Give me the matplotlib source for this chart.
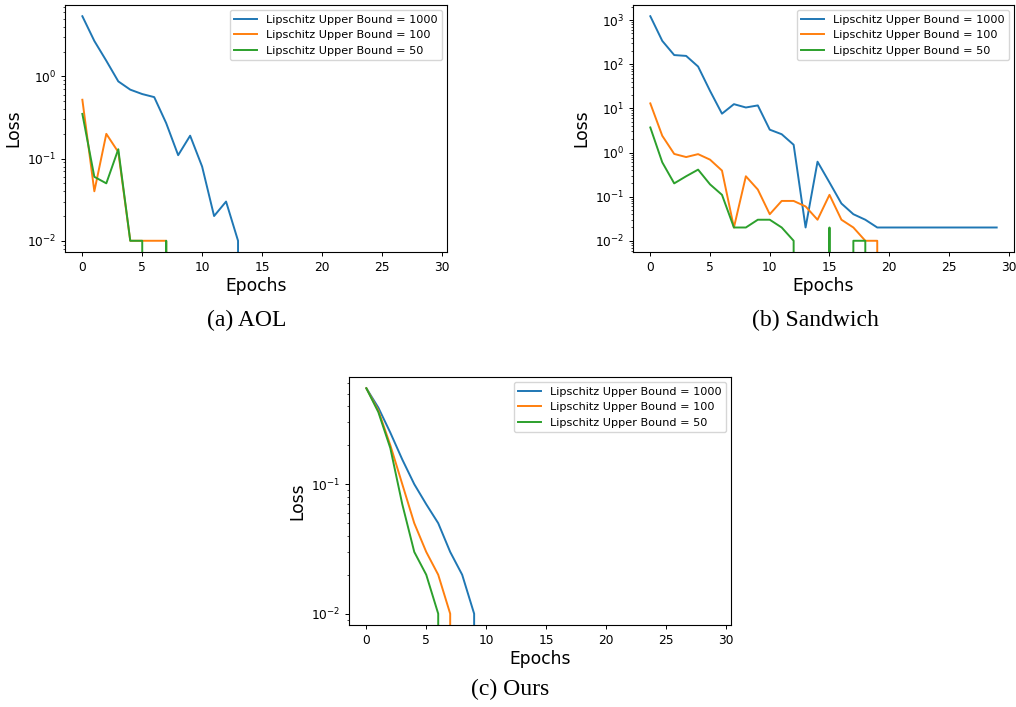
import matplotlib
matplotlib.use("Agg")
import matplotlib.pyplot as plt

# Training loss per epoch (0 = loss below the 0.01 logging resolution)
epochs = list(range(30))
labels = ["Lipschitz Upper Bound = 1000",
          "Lipschitz Upper Bound = 100",
          "Lipschitz Upper Bound = 50"]
colors = ["#1f77b4", "#ff7f0e", "#2ca02c"]

aol_1000 = [5.4, 2.7, 1.55, 0.87, 0.69, 0.61, 0.56, 0.27, 0.11, 0.19,
            0.08, 0.02, 0.03, 0.01] + [0.0] * 16
aol_100 = [0.52, 0.04, 0.2, 0.12, 0.01, 0.01, 0.01, 0.01] + [0.0] * 22
aol_50 = [0.35, 0.06, 0.05, 0.13, 0.01, 0.01, 0.0, 0.01] + [0.0] * 22

sandwich_1000 = [1230, 340, 162, 155, 89, 25, 7.6, 12.5, 10.5, 11.7,
                 3.3, 2.6, 1.5, 0.02, 0.62, 0.21, 0.07, 0.04, 0.03] + [0.02] * 11
sandwich_100 = [13, 2.4, 0.93, 0.79, 0.92, 0.69, 0.39, 0.02, 0.29, 0.145,
                0.04, 0.08, 0.08, 0.06, 0.03, 0.11, 0.03, 0.02, 0.01, 0.01] + [0.0] * 10
sandwich_50 = [3.7, 0.6, 0.2, 0.29, 0.41, 0.19, 0.11, 0.02, 0.02, 0.03,
               0.03, 0.02, 0.01, 0.0, 0.0, 0.02, 0.0, 0.01, 0.01] + [0.0] * 11

ours_1000 = [0.55, 0.39, 0.25, 0.155, 0.1, 0.07, 0.05, 0.03, 0.02, 0.01] + [0.0] * 20
ours_100 = [0.55, 0.37, 0.2, 0.1, 0.05, 0.03, 0.02, 0.01] + [0.0] * 22
ours_50 = [0.55, 0.36, 0.19, 0.07, 0.03, 0.02, 0.01] + [0.0] * 23

panels = [
    ("(a) AOL", [aol_1000, aol_100, aol_50]),
    ("(b) Sandwich", [sandwich_1000, sandwich_100, sandwich_50]),
    ("(c) Ours", [ours_1000, ours_100, ours_50]),
]

W, H = 1016, 707
fig = plt.figure(figsize=(W / 100, H / 100), dpi=100)

# axes boxes in pixels: left, top, right, bottom
boxes = [(65, 5, 447, 252), (633, 5, 1014, 252), (349, 377, 731, 625)]
captions_xy = [(247, 320), (815, 320), (510, 689)]

plt.rcParams["font.family"] = "DejaVu Sans"

for (title, series), box, cap in zip(panels, boxes, captions_xy):
    l, t, r, b = box
    ax = fig.add_axes([l / W, 1 - b / H, (r - l) / W, (b - t) / H])
    ax.set_yscale("log")
    for vals, lab, col in zip(series, labels, colors):
        ax.plot(epochs, vals, color=col, lw=1.4, label=lab)
    ax.set_xticks([0, 5, 10, 15, 20, 25, 30])
    ax.tick_params(axis="both", which="major", labelsize=8.8, length=2.8, width=0.7)
    ax.tick_params(axis="both", which="minor", length=1.6, width=0.5)
    for s in ax.spines.values():
        s.set_linewidth(0.8)
    ax.set_xlabel("Epochs", fontsize=12.3, labelpad=2)
    ax.set_ylabel("Loss", fontsize=12.3, labelpad=3)
    ax.legend(loc="upper right", fontsize=8.1, borderaxespad=0.45)
    fig.text(cap[0] / W, 1 - cap[1] / H, title, ha="center", va="center",
             fontsize=17, family="Liberation Serif")

fig.savefig("out.png", dpi=100)
